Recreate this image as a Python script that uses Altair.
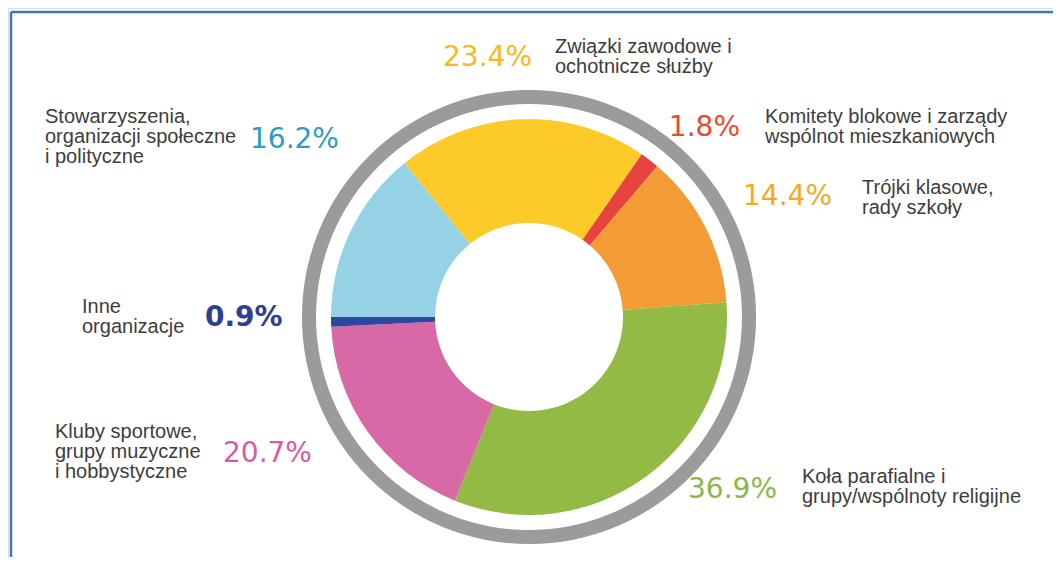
import math
import altair as alt
import pandas as pd

# ---- data ----
categories = [
    "Związki zawodowe i ochotnicze służby",
    "Komitety blokowe i zarządy wspólnot mieszkaniowych",
    "Trójki klasowe, rady szkoły",
    "Koła parafialne i grupy/wspólnoty religijne",
    "Kluby sportowe, grupy muzyczne i hobbystyczne",
    "Inne organizacje",
    "Stowarzyszenia, organizacji społeczne i polityczne",
]
values = [23.4, 1.8, 14.4, 36.9, 20.7, 0.9, 16.2]
pct_labels = ["23.4%", "1.8%", "14.4%", "36.9%", "20.7%", "0.9%", "16.2%"]
label_lines = [
    "Związki zawodowe i\nochotnicze służby",
    "Komitety blokowe i zarządy\nwspólnot mieszkaniowych",
    "Trójki klasowe,\nrady szkoły",
    "Koła parafialne i\ngrupy/wspólnoty religijne",
    "Kluby sportowe,\ngrupy muzyczne\ni hobbystyczne",
    "Inne\norganizacje",
    "Stowarzyszenia,\norganizacji społeczne\ni polityczne",
]

# ---- styles / layout ----
slice_colors = ["#FCCB2A", "#E8443F", "#F39B34", "#93BA44", "#D968A6", "#2D46A0", "#95D2E6"]
pct_colors = ["#F8B81F", "#E84A2E", "#F7A823", "#8BB84A", "#D65AA8", "#2C3F94", "#2B9DC4"]
OFF = 8
cx, cy = 529 - OFF, 317 - OFF
start = math.radians(-39)

# label layout (page pixel coords)
lab_x = [555, 765, 862, 802, 55, 82, 45]
lab_y = [53, 123, 194, 483, 438, 313, 123]
pct_x = [532, 740, 832, 777, 223, 205, 250]
pct_y = [66, 136, 205, 498, 462, 326, 148]
pct_align = ["right", "right", "right", "right", "left", "left", "left"]

df = pd.DataFrame({
    "cat": categories,
    "value": values,
    "order": list(range(len(values))),
})

W, H = 1045, 549

arcs = alt.Chart(df).mark_arc(radius=198, innerRadius=94, stroke=None).encode(
    theta=alt.Theta("value:Q", stack=True,
                    scale=alt.Scale(range=[start, start + 2 * math.pi])),
    order=alt.Order("order:Q"),
    color=alt.Color("cat:N", scale=alt.Scale(domain=categories, range=slice_colors), legend=None),
    x=alt.value(cx),
    y=alt.value(cy),
)

ring = alt.Chart(pd.DataFrame({"a": [0]})).mark_arc(
    radius=227, innerRadius=213, color="#9C9A9B"
).encode(
    theta=alt.value(0), theta2=alt.value(2 * math.pi),
    x=alt.value(cx), y=alt.value(cy),
)

frame_df = pd.DataFrame({"a": [0]})
frame_top = alt.Chart(frame_df).mark_rule(color="#3C76B6", strokeWidth=2.5).encode(
    x=alt.value(11 - OFF), x2=alt.value(W), y=alt.value(12 - OFF)
)
frame_left = alt.Chart(frame_df).mark_rule(color="#3C76B6", strokeWidth=2.5).encode(
    x=alt.value(11 - OFF), y=alt.value(12 - OFF), y2=alt.value(H)
)

ldf = pd.DataFrame({
    "cat": categories,
    "label": label_lines,
    "lx": [v - OFF for v in lab_x],
    "ly": [v - OFF for v in lab_y],
})
labels = alt.Chart(ldf).mark_text(
    align="left", baseline="alphabetic", lineBreak="\n", lineHeight=20,
    font="Liberation Sans", fontSize=20, color="#3d3d3d"
).encode(
    x=alt.X("lx:Q", scale=None), y=alt.Y("ly:Q", scale=None), text="label:N"
)

pct_layers = []
for i in range(len(values)):
    pdf = pd.DataFrame({"t": [pct_labels[i]], "px": [pct_x[i] - OFF], "py": [pct_y[i] - OFF]})
    pct_layers.append(
        alt.Chart(pdf).mark_text(
            align=pct_align[i], baseline="alphabetic", font="DejaVu Sans", fontSize=28,
            fontWeight="bold" if pct_labels[i] == "0.9%" else "normal",
            color=pct_colors[i]
        ).encode(x=alt.X("px:Q", scale=None), y=alt.Y("py:Q", scale=None), text="t:N")
    )

chart = alt.layer(frame_top, frame_left, ring, arcs, labels, *pct_layers).properties(
    width=W, height=H, padding=0, autosize=alt.AutoSizeParams(type="none")
).configure_view(stroke=None).configure(background="white")

chart.save("out.html", embed_options={"renderer": "svg", "actions": False})
